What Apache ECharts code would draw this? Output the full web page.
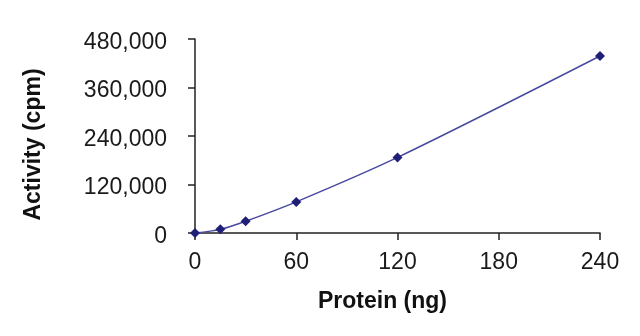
<!DOCTYPE html>
<html>
<head>
<meta charset="utf-8">
<script src="https://cdn.jsdelivr.net/npm/echarts@6/dist/echarts.min.js"></script>
<style>
html,body{margin:0;padding:0;background:#fff;}
#chart{width:640px;height:336px;}
</style>
</head>
<body>
<div id="chart"></div>
<script>
const proteinNg = [0, 15, 30, 60, 120, 240];
const activityCpm = [0, 9000, 29000, 77000, 187000, 438000];
const xTicks = [0, 60, 120, 180, 240];
const yTicks = [0, 120000, 240000, 360000, 480000];

const chart = echarts.init(document.getElementById('chart'), null, {renderer: 'canvas'});
const font = '"Liberation Sans", Arial, sans-serif';
chart.setOption({
  animation: false,
  backgroundColor: '#fff',
  grid: {left: 195, right: 40, top: 39, bottom: 103, containLabel: false},
  xAxis: {
    type: 'value',
    min: xTicks[0], max: xTicks[xTicks.length - 1], interval: xTicks[1] - xTicks[0],
    name: 'Protein (ng)', nameLocation: 'middle', nameGap: 57,
    nameTextStyle: {fontFamily: font, fontSize: 23, fontWeight: 'bold', color: '#111', padding: [0, 30, 0, 0]},
    axisLine: {lineStyle: {color: '#222', width: 1.5}},
    axisTick: {show: true, inside: false, length: 7, lineStyle: {color: '#222', width: 1.5}},
    axisLabel: {fontFamily: font, fontSize: 23, color: '#1a1a1a', margin: 18},
    splitLine: {show: false}
  },
  yAxis: {
    type: 'value',
    min: yTicks[0], max: yTicks[yTicks.length - 1], interval: yTicks[1] - yTicks[0],
    name: 'Activity (cpm)', nameLocation: 'middle', nameGap: 150, nameRotate: 90,
    nameTextStyle: {fontFamily: font, fontSize: 23, fontWeight: 'bold', color: '#111', padding: [0, 17, 0, 0]},
    axisLine: {show: true, lineStyle: {color: '#222', width: 1.5}},
    axisTick: {show: true, inside: false, length: 7, lineStyle: {color: '#222', width: 1.5}},
    axisLabel: {fontFamily: font, fontSize: 23, color: '#1a1a1a', margin: 28, verticalAlign: 'top', lineHeight: 7,
      formatter: v => v.toLocaleString('en-US')},
    splitLine: {show: false}
  },
  series: [{
    type: 'line',
    data: proteinNg.map((x, i) => [x, activityCpm[i]]),
    smooth: 0.3,
    symbol: 'diamond',
    symbolSize: 10,
    lineStyle: {color: '#4a4aa2', width: 1.5},
    itemStyle: {color: '#1f1f78'}
  }]
});
</script>
</body>
</html>
